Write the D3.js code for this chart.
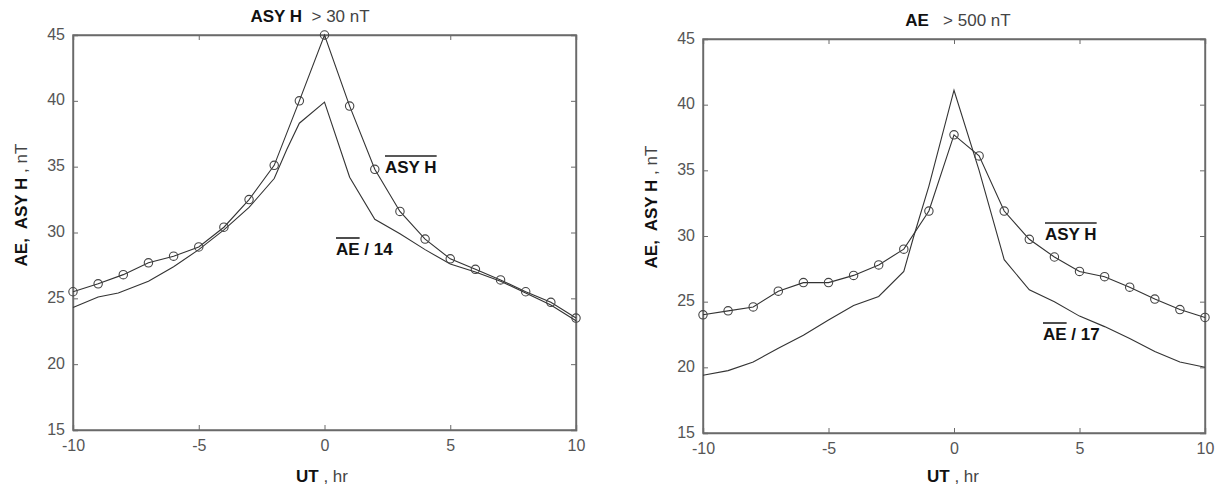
<!DOCTYPE html>
<html>
<head>
<meta charset="utf-8">
<script src="https://cdn.jsdelivr.net/npm/d3@7"></script>
<style>
  html, body { margin: 0; padding: 0; background: #fff; }
  svg { display: block; }
  text { font-family: "Liberation Sans", Arial, sans-serif; }
</style>
</head>
<body>
<svg id="chart" width="1230" height="489"></svg>
<script>
// Hourly epochs relative to onset (UT, hr)
const hours = [-10, -9, -8, -7, -6, -5, -4, -3, -2, -1, 0, 1, 2, 3, 4, 5, 6, 7, 8, 9, 10];

// Panel 1: events with ASY H > 30 nT
const asyLeft = [25.5, 26.1, 26.8, 27.7, 28.2, 28.9, 30.4, 32.5, 35.1, 40.0, 45.0, 39.6, 34.8, 31.6, 29.5, 28.0, 27.2, 26.4, 25.5, 24.7, 23.5];
const aeLeftHours = [-10, -9, -8.2, -7, -6, -5, -4, -3, -2, -1.5, -1, 0, 1, 2, 3, 4, 5, 6, 7, 8, 9, 10];
const aeLeft = [24.3, 25.1, 25.4, 26.3, 27.4, 28.7, 30.2, 31.9, 34.1, 36.3, 38.3, 39.9, 34.2, 31.0, 29.9, 28.7, 27.6, 27.0, 26.3, 25.4, 24.5, 23.3];

// Panel 2: events with AE > 500 nT
const asyRight = [24.0, 24.3, 24.6, 25.8, 26.45, 26.45, 27.0, 27.8, 29.0, 31.9, 37.7, 36.1, 31.9, 29.75, 28.4, 27.3, 26.9, 26.1, 25.2, 24.4, 23.8];
const aeRightHours = [-10, -9, -8, -7, -6, -5, -4, -3, -2, -1.6, -1, 0, 1, 2, 3, 4, 5, 6, 7, 8, 9, 10];
const aeRight = [19.4, 19.75, 20.4, 21.45, 22.45, 23.6, 24.7, 25.4, 27.3, 30.0, 33.8, 41.1, 35.0, 28.2, 25.9, 25.0, 23.9, 23.1, 22.2, 21.2, 20.4, 20.0];

// Axis ticks
const xTicks = [-10, -5, 0, 5, 10];
const yTicks = [15, 20, 25, 30, 35, 40, 45];

const svg = d3.select("#chart");
const axisColor = "#6a6a6a";
const lineColor = "#333";
const tickText = "#555";
const plainNum = d => String(d);   // ASCII hyphen for negatives

function panel(opt) {
  const { left, right, top, bottom } = opt.box;
  const x = d3.scaleLinear().domain([-10, 10]).range([left, right]);
  const y = d3.scaleLinear().domain([15, 45]).range([bottom, top]);
  const g = svg.append("g");

  // frame
  g.append("rect")
    .attr("x", left).attr("y", top)
    .attr("width", right - left).attr("height", bottom - top)
    .attr("fill", "none").attr("stroke", axisColor).attr("stroke-width", 1.4);

  // axes with inward ticks on all four sides
  const bottomAxis = d3.axisBottom(x).tickValues(xTicks).tickSize(-5).tickPadding(10).tickFormat(plainNum);
  const topAxis = d3.axisTop(x).tickValues(xTicks).tickSize(-5).tickFormat("");
  const leftAxis = d3.axisLeft(y).tickValues(yTicks).tickSize(-5).tickPadding(8).tickFormat(plainNum);
  const rightAxis = d3.axisRight(y).tickValues(yTicks).tickSize(-5).tickFormat("");

  const axes = [
    g.append("g").attr("transform", `translate(0,${bottom})`).call(bottomAxis),
    g.append("g").attr("transform", `translate(0,${top})`).call(topAxis),
    g.append("g").attr("transform", `translate(${left},0)`).call(leftAxis),
    g.append("g").attr("transform", `translate(${right},0)`).call(rightAxis)
  ];
  axes.forEach(a => {
    a.select(".domain").attr("stroke", axisColor).attr("stroke-width", 1.4);
    a.selectAll(".tick line").attr("stroke", axisColor).attr("stroke-width", 1);
    a.selectAll(".tick text")
      .attr("fill", tickText)
      .style("font-family", "'Liberation Sans', Arial, sans-serif")
      .style("font-size", "16px");
  });
  // y tick labels sit slightly above their ticks
  axes[2].selectAll(".tick text").attr("dy", "0.25em");

  const line = d3.line().x(d => x(d[0])).y(d => y(d[1]));

  // AE curve (plain line)
  g.append("path")
    .datum(opt.aeHours.map((h, i) => [h, opt.ae[i]]))
    .attr("d", line)
    .attr("fill", "none").attr("stroke", lineColor).attr("stroke-width", 1.1);

  // ASY H curve with hourly circles
  const asyPts = hours.map((h, i) => [h, opt.asy[i]]);
  g.append("path")
    .datum(asyPts)
    .attr("d", line)
    .attr("fill", "none").attr("stroke", lineColor).attr("stroke-width", 1.1);
  g.selectAll("circle.m").data(asyPts).join("circle")
    .attr("class", "m")
    .attr("cx", d => x(d[0])).attr("cy", d => y(d[1])).attr("r", 4.2)
    .attr("fill", "none").attr("stroke", "#444").attr("stroke-width", 1.1);

  // title
  const t = g.append("text")
    .attr("x", opt.titleX).attr("y", opt.titleY)
    .attr("text-anchor", "middle").style("font-size", "17px")
    .style("white-space", "pre");
  t.append("tspan").attr("font-weight", "bold").attr("fill", "#111").text(opt.titleBold);
  t.append("tspan").attr("fill", "#444").text(opt.titleRest);

  // y-axis label
  const yl = g.append("text")
    .attr("transform", `translate(${opt.yLabelX},${opt.yLabelY}) rotate(-90)`)
    .attr("text-anchor", "middle").style("font-size", "17px")
    .style("white-space", "pre");
  yl.append("tspan").attr("font-weight", "bold").attr("fill", "#111").text("AE,  ASY H");
  yl.append("tspan").attr("fill", "#444").text(" , nT");

  // x-axis label
  const xl = g.append("text")
    .attr("x", opt.xLabelX).attr("y", 482)
    .attr("text-anchor", "middle").style("font-size", "17px")
    .style("white-space", "pre");
  xl.append("tspan").attr("font-weight", "bold").attr("fill", "#111").text("UT");
  xl.append("tspan").attr("fill", "#444").text(" , hr");

  // curve annotations with overbars
  opt.notes.forEach(n => {
    const txt = g.append("text")
      .attr("x", n.x).attr("y", n.y)
      .attr("font-weight", "bold").attr("fill", "#111")
      .style("font-size", "17px")
      .text(n.text);
    const full = txt.node().getComputedTextLength();
    const barLen = n.barChars ? txt.node().getSubStringLength(0, n.barChars) : full;
    g.append("line")
      .attr("x1", n.x).attr("x2", n.x + barLen)
      .attr("y1", n.y - 17).attr("y2", n.y - 17)
      .attr("stroke", "#222").attr("stroke-width", 1.6);
  });
}

panel({
  box: { left: 73, right: 576, top: 35, bottom: 430 },
  asy: asyLeft, ae: aeLeft, aeHours: aeLeftHours,
  titleBold: "ASY H", titleRest: "  > 30 nT", titleX: 310, titleY: 22,
  yLabelX: 27, yLabelY: 205, xLabelX: 322,
  notes: [
    { text: "ASY H", x: 385, y: 173 },
    { text: "AE / 14", x: 336, y: 255, barChars: 2 }
  ]
});

panel({
  box: { left: 703, right: 1205, top: 39, bottom: 433 },
  asy: asyRight, ae: aeRight, aeHours: aeRightHours,
  titleBold: "AE", titleRest: "   > 500 nT", titleX: 958, titleY: 26,
  yLabelX: 657, yLabelY: 207, xLabelX: 953,
  notes: [
    { text: "ASY H", x: 1045, y: 240 },
    { text: "AE / 17", x: 1043, y: 340, barChars: 2 }
  ]
});
</script>
</body>
</html>
